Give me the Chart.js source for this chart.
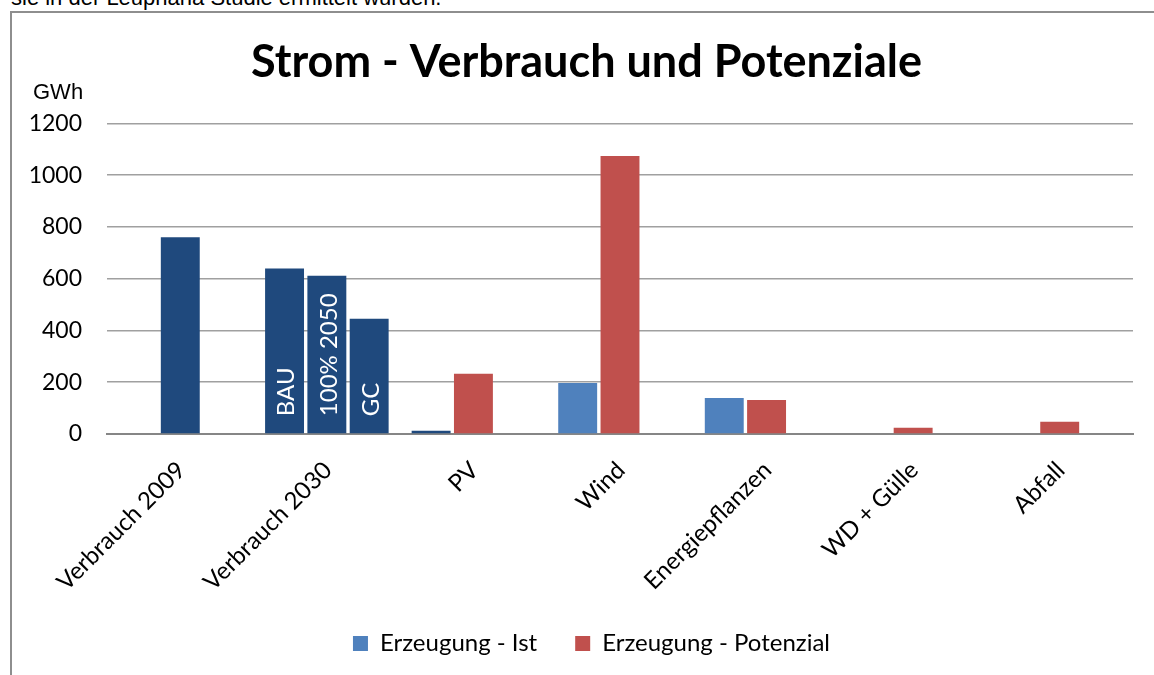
<!DOCTYPE html>
<html>
<head>
<meta charset="utf-8">
<script src="https://cdn.jsdelivr.net/npm/chart.js@4.4.1/dist/chart.umd.min.js"></script>
<style>
  html, body { margin: 0; padding: 0; background: #fff; overflow: hidden; }
  #intro { position: absolute; left: 11px; top: -13px; font: 22px "Liberation Sans", Arial, sans-serif; line-height: 22px; color: #000; white-space: nowrap; }
  #frame { position: absolute; left: 10px; top: 11px; width: 1200px; height: 700px; border-left: 2px solid #8e8e8e; border-top: 2px solid #8e8e8e; }
  #wrap { position: absolute; left: 0; top: 0; width: 1154px; height: 675px; }
</style>
</head>
<body>
<div id="intro">sie in der Leuphana Studie ermittelt wurden.</div>
<div id="frame"></div>
<div id="wrap"><canvas id="chart"></canvas></div>
<script>
const categories = ["Verbrauch 2009", "Verbrauch 2030", "PV", "Wind", "Energiepflanzen", "WD + Gülle", "Abfall"];
// three bar slots per category, as in the original sheet
const istValues = [null, 640, 13, 197, 139, null, null];
const potenzialValues = [760, 612, 233, 1074, 131, 24, 47];
const gcValues = [null, 445, null, null, null, null, null];
const barNotes = ["BAU", "100% 2050", "GC"]; // written into the Verbrauch 2030 bars
const yTicks = [0, 200, 400, 600, 800, 1000, 1200];
const legendNames = ["Erzeugung - Ist", "Erzeugung - Potenzial"];

const dark = "#1F497D";
const light = "#4F81BD";
const red = "#C0504D";
const legendColors = [light, red];

//bar colours per slot
const istColors = [dark, dark, dark, light, light, light, light];
const potColors = [dark, dark, red, red, red, red, red];

const font = "Lato";
const legendSize = 24;
const legendGap = 38;

//extra drawing: unit label, text in bars, title/legend placement
const extras = {
  id: "extras",
  afterLayout(chart) {
    const tb = chart.titleBlock;
    const tdx = 586.5 - (tb.left + tb.right) / 2;
    tb.left += tdx;
    tb.right += tdx;

    const lg = chart.legend;
    const dx = 591.5 - (lg.left + lg.right) / 2;
    lg.left += dx;
    lg.right += dx;
    const dy = 646 - (lg.top + legendGap + legendSize * 0.6);
    lg.top += dy;
    lg.bottom += dy;
  },
  afterDatasetsDraw(chart) {
    const ctx = chart.ctx;
    const area = chart.chartArea;
    ctx.save();
    ctx.fillStyle = "#000";
    ctx.font = '22px "Liberation Sans", Arial, sans-serif';
    ctx.textAlign = "left";
    ctx.textBaseline = "alphabetic";
    ctx.fillText("GWh", area.left - 74, area.top - 24.5);

    ctx.fillStyle = "#fff";
    ctx.font = "24px " + font;
    ctx.textBaseline = "middle";
    barNotes.forEach((txt, i) => {
      const bar = chart.getDatasetMeta(i).data[1];
      ctx.save();
      ctx.translate(bar.x + 2, bar.base - 17);
      ctx.rotate(-Math.PI / 2);
      ctx.fillText(txt, 0, 0);
      ctx.restore();
    });
    ctx.restore();
  },
};

new Chart(document.getElementById("chart"), {
  type: "bar",
  plugins: [extras],
  data: {
    labels: categories,
    datasets: [
      { label: legendNames[0], data: istValues, backgroundColor: istColors },
      { label: legendNames[1], data: potenzialValues, backgroundColor: potColors },
      { label: "GC", data: gcValues, backgroundColor: dark },
    ],
  },
  options: {
    responsive: true,
    maintainAspectRatio: false,
    animation: false,
    categoryPercentage: 0.866,
    barPercentage: 0.92,
    layout: { padding: { left: 18, right: 21, top: 0, bottom: -20 } },
    plugins: {
      tooltip: { enabled: false },
      title: {
        display: true,
        text: "Strom - Verbrauch und Potenziale",
        color: "#000",
        font: { family: font, size: 45, weight: "bold" },
        padding: { top: 35, bottom: 34.5 },
      },
      legend: {
        position: "bottom",
        labels: {
          color: "#000",
          font: { family: font, size: legendSize },
          boxWidth: 15,
          boxHeight: 15,
          padding: legendGap,
          generateLabels: () =>
            legendNames.map((t, i) => ({
              text: t,
              fillStyle: legendColors[i],
              strokeStyle: legendColors[i],
              lineWidth: 0,
              hidden: false,
              datasetIndex: i,
            })),
        },
      },
    },
    scales: {
      x: {
        grid: { display: false },
        border: { color: "#868686", width: 2 },
        ticks: {
          color: "#000",
          font: { family: font, size: 24 },
          minRotation: 45,
          maxRotation: 45,
          autoSkip: false,
          padding: 14,
          labelOffset: 1,
        },
        afterFit: (s) => { s.height = 189; },
      },
      y: {
        min: 0,
        max: 1200,
        afterBuildTicks: (s) => { s.ticks = yTicks.map((v) => ({ value: v })); },
        grid: {
          color: (c) => (c.index === 0 ? "#868686" : "#a0a0a0"),
          lineWidth: 1.6,
          drawTicks: false,
        },
        border: { display: false },
        ticks: { color: "#000", font: { family: font, size: 23 }, padding: 25, callback: (v) => String(v) },
        afterFit: (s) => { s.width = 89; },
      },
    },
  },
});
</script>
</body>
</html>
